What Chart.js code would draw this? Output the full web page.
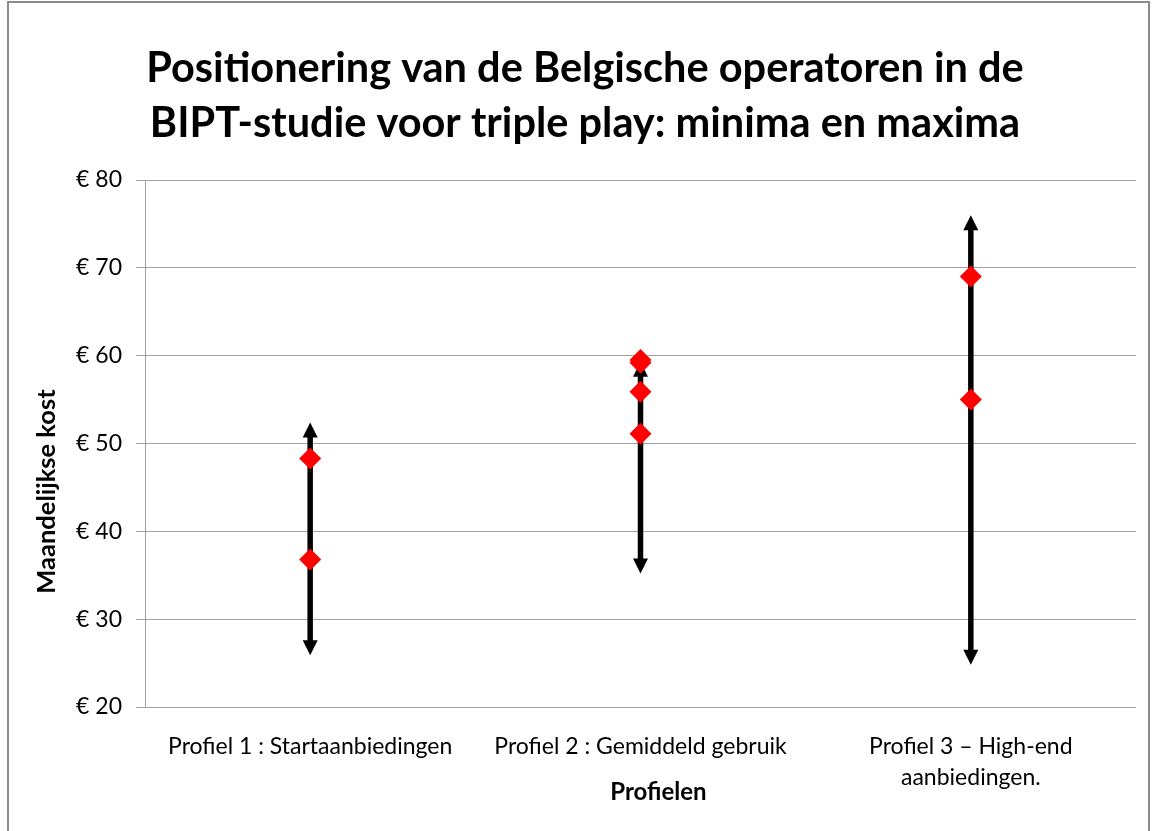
<!DOCTYPE html>
<html>
<head>
<meta charset="utf-8">
<script src="https://cdn.jsdelivr.net/npm/chart.js@4.4.1/dist/chart.umd.min.js"></script>
<style>
  html, body { margin: 0; padding: 0; background: #fff; }
  #wrap { position: relative; width: 1152px; height: 831px; overflow: hidden; }
  #frame { position: absolute; left: 7px; top: 1px; width: 1143px; height: 850px;
           border: 2px solid #8c8c8c; box-sizing: border-box; pointer-events: none; }
</style>
</head>
<body>
<div id="wrap">
  <canvas id="chart" width="1152" height="831"></canvas>
  <div id="frame"></div>
</div>
<script>
// Categories (x axis)
const categories = [
  'Profiel 1 : Startaanbiedingen',
  'Profiel 2 : Gemiddeld gebruik',
  ['Profiel 3 \u2013 High-end', 'aanbiedingen.']
];

// Range of the arrows per profile (min / max monthly cost)
const rangeMin = [25.9, 35.2, 24.8];
const rangeMax = [52.4, 59.3, 76.0];

// Operator positions (red diamonds) per profile
const profiel1Points = [48.3, 36.8];
const profiel2Points = [59.5, 59.2, 55.9, 51.1];
const profiel3Points = [69.0, 55.0];

// Y axis ticks
const yTicks = [20, 30, 40, 50, 60, 70, 80];

const titleLines = [
  'Positionering van de Belgische operatoren in de',
  'BIPT-studie voor triple play: minima en maxima'
];
const xTitle = 'Profielen';
const yTitle = 'Maandelijkse kost';

const markerData = [profiel1Points, profiel2Points, profiel3Points]
  .flatMap((vals, i) => vals.map(v => ({ x: i, y: v })));

// --- arrows from min to max, drawn below the diamonds ---
const rangeArrows = {
  id: 'rangeArrows',
  beforeDatasetsDraw(chart) {
    const { ctx, scales: { x, y } } = chart;
    const head = 15, half = 7.5;
    ctx.save();
    ctx.fillStyle = '#000';
    ctx.strokeStyle = '#000';
    ctx.lineWidth = 5.5;
    rangeMin.forEach((lo, i) => {
      const px = x.getPixelForValue(i);
      const top = y.getPixelForValue(rangeMax[i]);
      const bot = y.getPixelForValue(lo);
      ctx.beginPath();
      ctx.moveTo(px, top + head - 1);
      ctx.lineTo(px, bot - head + 1);
      ctx.stroke();
      ctx.beginPath();
      ctx.moveTo(px, top);
      ctx.lineTo(px - half, top + head);
      ctx.lineTo(px + half, top + head);
      ctx.closePath();
      ctx.fill();
      ctx.beginPath();
      ctx.moveTo(px, bot);
      ctx.lineTo(px - half, bot - head);
      ctx.lineTo(px + half, bot - head);
      ctx.closePath();
      ctx.fill();
    });
    ctx.restore();
  }
};

// --- axis titles (Excel places them slightly off-centre) ---
const axisTitles = {
  id: 'axisTitles',
  afterDraw(chart) {
    const { ctx, chartArea } = chart;
    ctx.save();
    ctx.fillStyle = '#000';
    ctx.textAlign = 'center';
    ctx.textBaseline = 'middle';
    ctx.font = 'bold 24px Lato';
    ctx.fillText(xTitle, (chartArea.left + chartArea.right) / 2 + 18, 792);
    ctx.font = 'bold 25.5px Lato';
    ctx.translate(47, (chartArea.top + chartArea.bottom) / 2 + 48);
    ctx.rotate(-Math.PI / 2);
    ctx.fillText(yTitle, 0, 0);
    ctx.restore();
  }
};

new Chart(document.getElementById('chart'), {
  type: 'scatter',
  data: {
    datasets: [{
      data: markerData,
      showLine: false,
      pointStyle: 'rectRot',
      pointRadius: 11,
      pointHoverRadius: 11,
      pointBorderWidth: 0,
      pointBackgroundColor: '#ff0000',
      backgroundColor: '#ff0000',
      borderColor: '#ff0000'
    }]
  },
  options: {
    responsive: false,
    animation: false,
    layout: { padding: { left: 34, right: 16, top: 0, bottom: 0 } },
    plugins: {
      legend: { display: false },
      tooltip: { enabled: false },
      title: {
        display: true,
        text: titleLines,
        color: '#000',
        font: { family: 'Lato', size: 41.5, weight: 'bold', lineHeight: 55 / 41.5 },
        padding: { top: 41, bottom: 29 }
      }
    },
    scales: {
      x: {
        type: 'linear',
        min: -0.5,
        max: 2.5,
        afterBuildTicks(scale) { scale.ticks = categories.map((c, i) => ({ value: i })); },
        grid: { display: false },
        border: { display: false },
        ticks: {
          color: '#000',
          padding: 16,
          maxRotation: 0,
          autoSkip: false,
          font: { family: 'Lato', size: 23, lineHeight: 31 / 23 },
          callback: v => categories[v]
        },
        afterFit(scale) { scale.height = 124; }
      },
      y: {
        min: 20,
        max: 80,
        afterBuildTicks(scale) { scale.ticks = yTicks.map(v => ({ value: v })); },
        grid: { color: '#a0a0a0', lineWidth: 1, tickLength: 9 },
        border: { display: true, color: '#a0a0a0', width: 1 },
        ticks: {
          color: '#000',
          padding: 14,
          font: { family: 'Lato', size: 23 },
          callback: v => '\u20ac ' + v
        },
        afterFit(scale) { scale.width = 111; }
      }
    }
  },
  plugins: [rangeArrows, axisTitles]
});
</script>
</body>
</html>
